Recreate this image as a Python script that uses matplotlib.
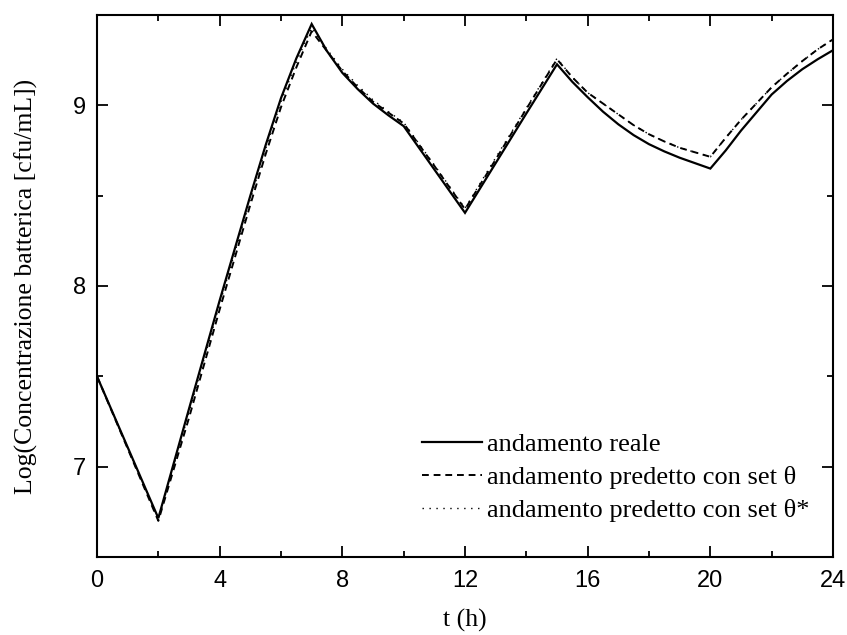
import matplotlib
matplotlib.use("Agg")
import matplotlib.pyplot as plt
from matplotlib.ticker import MultipleLocator
from matplotlib.lines import Line2D

# --- data ---
t_real = [0, 2, 3, 4, 5, 5.5, 6, 6.5, 7, 7.5, 8, 8.5, 9, 9.5, 10, 11, 12, 13, 14, 15,
          15.5, 16, 16.5, 17, 17.5, 18, 18.5, 19, 19.5, 20, 20.5, 21, 21.5, 22, 22.5, 23, 23.5, 24]
y_real = [7.50, 6.715, 7.32, 7.92, 8.50, 8.78, 9.04, 9.26, 9.45, 9.30, 9.18, 9.09, 9.01, 8.945,
          8.885, 8.645, 8.405, 8.68, 8.955, 9.227,
          9.13, 9.045, 8.965, 8.895, 8.835, 8.785, 8.745, 8.71, 8.68, 8.65,
          8.75, 8.86, 8.96, 9.06, 9.135, 9.20, 9.255, 9.305]

t_theta = [0, 2, 3, 4, 5, 5.5, 6, 6.5, 7, 7.5, 8, 8.5, 9, 9.5, 10, 11, 12, 13, 14, 15,
           15.5, 16, 16.5, 17, 17.5, 18, 18.5, 19, 19.5, 20, 20.5, 21, 21.5, 22, 22.5, 23, 23.5, 24]
y_theta = [7.50, 6.70, 7.27, 7.87, 8.45, 8.73, 8.99, 9.21, 9.41, 9.30, 9.19, 9.10, 9.02, 8.96,
           8.90, 8.665, 8.425, 8.70, 8.98, 9.255,
           9.155, 9.07, 9.01, 8.95, 8.89, 8.84, 8.80, 8.765, 8.74, 8.715,
           8.82, 8.92, 9.01, 9.10, 9.175, 9.245, 9.31, 9.365]

t_theta_star = [0, 2, 3, 4, 5, 5.5, 6, 6.5, 7, 7.5, 8, 8.5, 9, 9.5, 10, 11, 12, 13, 14, 15,
                15.5, 16, 16.5, 17, 17.5, 18, 18.5, 19, 19.5, 20, 20.5, 21, 21.5, 22, 22.5, 23, 23.5, 24]
y_theta_star = [7.50, 6.71, 7.30, 7.90, 8.48, 8.76, 9.02, 9.24, 9.43, 9.31, 9.20, 9.11, 9.03, 8.965,
                8.905, 8.67, 8.43, 8.71, 8.985, 9.26,
                9.155, 9.07, 9.01, 8.95, 8.89, 8.84, 8.80, 8.765, 8.74, 8.715,
                8.82, 8.92, 9.01, 9.10, 9.175, 9.245, 9.31, 9.365]

labels = ["andamento reale",
          "andamento predetto con set \u03b8",
          "andamento predetto con set \u03b8*"]
x_label = "t (h)"
y_label = "Log(Concentrazione batterica [cfu/mL])"

serif = ["Liberation Serif", "DejaVu Serif"]
sans = ["Liberation Sans", "DejaVu Sans"]

W, H = 847, 635
fig = plt.figure(figsize=(W / 100, H / 100), dpi=100)
ax = fig.add_axes([97 / W, 1 - 557 / H, (833 - 97) / W, (557 - 15) / H])

ax.plot(t_real, y_real, color="black", lw=1.6, solid_joinstyle="miter")
ax.plot(t_theta, y_theta, color="black", lw=1.4, dashes=(3.5, 2.5))
ax.plot(t_theta_star, y_theta_star, color="black", lw=1.0, dashes=(1, 4))

ax.set_xlim(0, 24)
ax.set_ylim(6.5, 9.5)
ax.xaxis.set_major_locator(MultipleLocator(4))
ax.xaxis.set_minor_locator(MultipleLocator(2))
ax.yaxis.set_major_locator(MultipleLocator(1))
ax.yaxis.set_minor_locator(MultipleLocator(0.5))
ax.tick_params(which="both", direction="in", top=True, right=True, width=1.3)
ax.tick_params(which="major", length=8, labelsize=17)
ax.tick_params(axis="x", which="major", pad=9.5)
ax.tick_params(axis="y", which="major", pad=8)
ax.tick_params(which="minor", length=4)
for lab in ax.get_xticklabels() + ax.get_yticklabels():
    lab.set_family(sans)
for s in ax.spines.values():
    s.set_linewidth(1.5)

ax.set_xlabel(x_label, fontsize=18.5, family=serif, labelpad=12)
ax.set_ylabel(y_label, fontsize=18.5, family=serif, labelpad=25)

handles = [Line2D([], [], color="black", lw=1.6),
           Line2D([], [], color="black", lw=1.4, dashes=(3.5, 2.5)),
           Line2D([], [], color="black", lw=1.0, dashes=(1, 4))]
fs = 19
fs_px = fs * 100 / 72
ax.legend(handles, labels, loc="upper left",
          bbox_to_anchor=(422 / W, 1 - 433 / H), bbox_transform=fig.transFigure,
          frameon=False, borderpad=0, borderaxespad=0,
          prop={"family": serif, "size": fs}, handlelength=60 / fs_px,
          handletextpad=5 / fs_px, labelspacing=0.36)

fig.savefig("out.png", dpi=100)
